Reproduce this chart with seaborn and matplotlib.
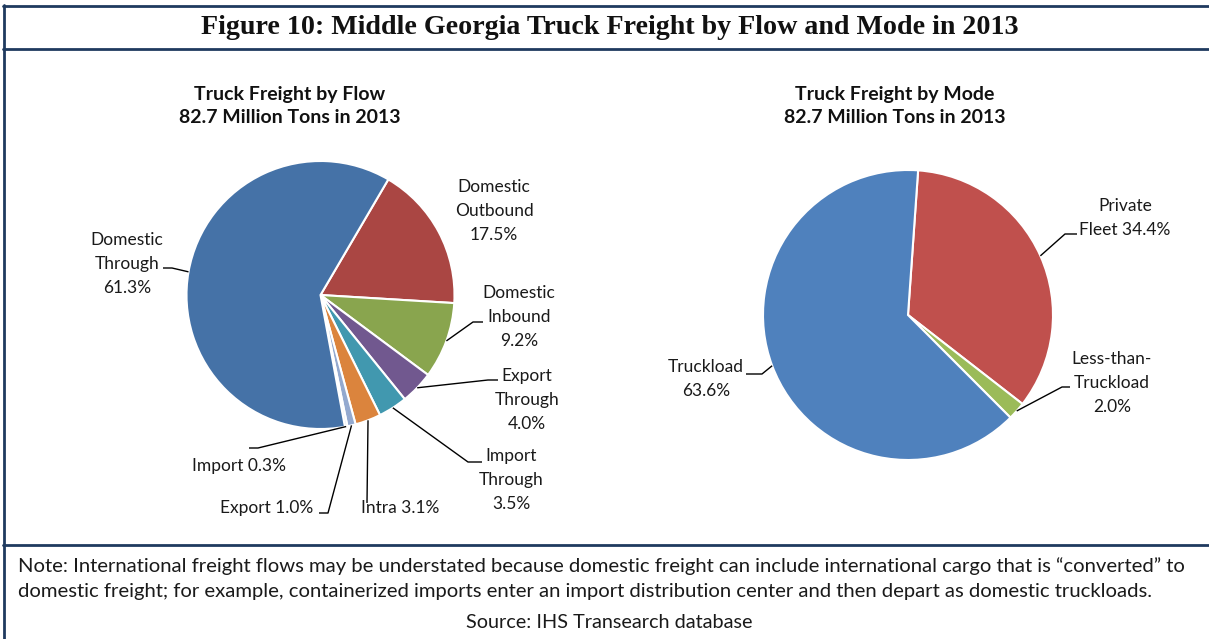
import numpy as np
import matplotlib.pyplot as plt
import seaborn as sns

# Data
flow_labels = ["Domestic\nOutbound\n17.5%", "Domestic\nInbound\n9.2%", "Export\nThrough\n4.0%",
               "Import\nThrough\n3.5%", "Intra 3.1%", "Export 1.0%", "Import 0.3%",
               "Domestic\nThrough\n61.3%"]
flow_values = [17.5, 9.2, 4.0, 3.5, 3.1, 1.0, 0.3, 61.3]
flow_colors = ["#AA4643", "#89A54E", "#71588F", "#4198AF", "#DB843D", "#93A9CF", "#D3DCEA", "#4572A7"]

mode_labels = ["Private\nFleet 34.4%", "Less-than-\nTruckload\n2.0%", "Truckload\n63.6%"]
mode_values = [34.4, 2.0, 63.6]
mode_colors = ["#C0504D", "#9BBB59", "#4F81BD"]

W, H = 1209, 639
def Y(y):
    return H - y

sns.set_style("white")
plt.rcParams["font.family"] = ["Lato", "DejaVu Sans"]

fig = plt.figure(figsize=(W / 100, H / 100), dpi=100)
ax = fig.add_axes([0, 0, 1, 1])

# layout: text centre, then leader elbow/end points (image pixels); None = no leader
flow_layout = [
    ((494, 211), None),
    ((519, 317), [(473, 322), (483, 322)]),
    ((527, 400), [(488, 380), (498, 380)]),
    ((511, 480), [(468, 462), (482, 462)]),
    ((400, 508), [(367, 503)]),
    ((267, 508), [(328, 513), (319, 513)]),
    ((239, 466), [(258, 448), (249, 448)]),
    ((127, 264), [(172, 268), (163, 268)]),
]
mode_layout = [
    ((1125, 218), [(1065, 234), (1077, 234)]),
    ((1112, 383), [(1062, 387), (1070, 387)]),
    ((706, 379), [(762, 374), (746, 374)]),
]


def draw_pie(values, colors, labels, layout, center, radius, start):
    wedges, _ = ax.pie(values, colors=colors, startangle=start, counterclock=False,
                       center=(center[0], Y(center[1])), radius=radius, frame=True,
                       wedgeprops=dict(edgecolor="white", linewidth=1.5))
    for w, lab, ((tx, ty), pts) in zip(wedges, labels, layout):
        if pts is not None:
            mid = np.deg2rad((w.theta1 + w.theta2) / 2)
            ex = center[0] + radius * np.cos(mid)
            ey = Y(center[1]) + radius * np.sin(mid)
            xs = [ex] + [p[0] for p in pts]
            ys = [ey] + [Y(p[1]) for p in pts]
            ax.plot(xs, ys, color="black", lw=1.0, solid_capstyle="butt")
        ax.text(tx, Y(ty), lab, ha="center", va="center", fontsize=12.5,
                linespacing=1.58, color="#1a1a1a")


draw_pie(flow_values, flow_colors, flow_labels, flow_layout, (320.5, 295), 134, 59.6)
draw_pie(mode_values, mode_colors, mode_labels, mode_layout, (908, 315), 145, 86)

# Subtitles
for cx, name in [(290, "Flow"), (895, "Mode")]:
    ax.text(cx, Y(106), f"Truck Freight by {name}\n82.7 Million Tons in 2013", ha="center",
            va="center", fontsize=14, fontweight="bold", linespacing=1.36, color="#111111")

# Title
ax.text(W / 2 + 5, Y(28), "Figure 10: Middle Georgia Truck Freight by Flow and Mode in 2013",
        ha="center", va="center", fontsize=20.2, fontweight="bold",
        family=["Liberation Serif", "DejaVu Serif"], color="#111111")

# Note and source
ax.text(18, Y(566), "Note: International freight flows may be understated because domestic freight can "
        "include international cargo that is \u201cconverted\u201d to", ha="left", va="center",
        fontsize=14.6, color="#1a1a1a")
ax.text(18, Y(592), "domestic freight; for example, containerized imports enter an import distribution "
        "center and then depart as domestic truckloads.", ha="left", va="center",
        fontsize=14.6, color="#1a1a1a")
ax.text(W / 2 + 5, Y(622), "Source: IHS Transearch database", ha="center", va="center",
        fontsize=14.3, color="#1a1a1a")

# Frame lines
border = "#1F3A5F"
ax.plot([3, W], [Y(6), Y(6)], color=border, lw=2)
ax.plot([3, W], [Y(49), Y(49)], color=border, lw=2)
ax.plot([3, W], [Y(545), Y(545)], color=border, lw=2)
ax.plot([4, 4], [Y(5), 0], color=border, lw=2)

ax.set_xlim(0, W)
ax.set_ylim(0, H)
ax.axis("off")

fig.savefig("out.png", dpi=100, facecolor="white")
